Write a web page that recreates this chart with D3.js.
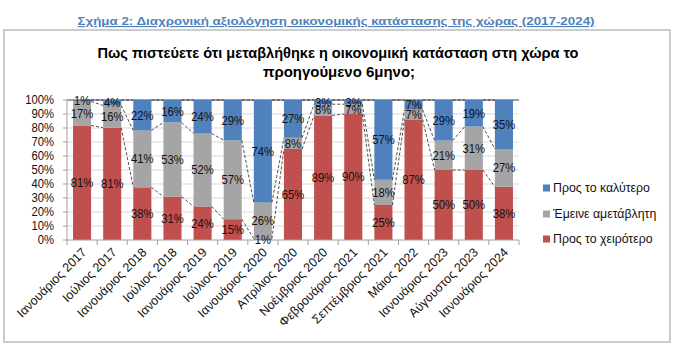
<!DOCTYPE html>
<html><head><meta charset="utf-8">
<script src="https://cdn.jsdelivr.net/npm/d3@7"></script>
<style>
body{margin:0;background:#fff;}
svg{display:block;font-family:"Liberation Sans",Arial,sans-serif;}
</style></head>
<body>
<svg id="chart" width="680" height="356"></svg>
<script>
const categories = ["Ιανουάριος 2017","Ιούλιος 2017","Ιανουάριος 2018","Ιούλιος 2018","Ιανουάριος 2019","Ιούλιος 2019","Ιανουάριος 2020","Απρίλιος 2020","Νοέμβριος 2020","Φεβρουάριος 2021","Σεπτέμβριος 2021","Μάιος 2022","Ιανουάριος 2023","Αύγουστος 2023","Ιανουάριος 2024"];
const worse  = [81,81,38,31,24,15,1,65,89,90,25,87,50,50,38];
const same   = [17,16,41,53,52,57,26,8,8,7,18,7,21,31,27];
const better = [1,4,22,16,24,29,74,27,3,3,57,7,29,19,35];
const seriesNames = ["Προς το χειρότερο","Έμεινε αμετάβλητη","Προς το καλύτερο"];
const yTicks = [0,10,20,30,40,50,60,70,80,90,100];
const caption = "Σχήμα 2: Διαχρονική αξιολόγηση οικονομικής κατάστασης της χώρας (2017-2024)";
const titleLines = ["Πως πιστεύετε ότι μεταβλήθηκε η οικονομική κατάσταση στη χώρα το","προηγούμενο 6μηνο;"];

const colors = ["#C0504D","#A5A5A5","#4F81BD"];
const svg = d3.select("#chart");

// outer frame
svg.append("rect").attr("x",4).attr("y",30).attr("width",666).attr("height",312)
  .attr("fill","#fff").attr("stroke","#bcbcbc").attr("stroke-width",1.5);

// caption
svg.append("text").attr("x",336).attr("y",25).attr("text-anchor","middle")
  .attr("font-size",11.5).attr("font-weight","bold").attr("fill","#4F81BD")
  .attr("text-decoration","underline")
  .attr("textLength",517).attr("lengthAdjust","spacingAndGlyphs")
  .text(caption);

// title
svg.append("text").attr("x",338).attr("y",58).attr("text-anchor","middle")
  .attr("font-size",15.5).attr("font-weight","bold").attr("fill","#000")
  .attr("textLength",481).attr("lengthAdjust","spacingAndGlyphs")
  .text(titleLines[0]);
svg.append("text").attr("x",339).attr("y",77).attr("text-anchor","middle")
  .attr("font-size",15.5).attr("font-weight","bold").attr("fill","#000")
  .attr("textLength",152).attr("lengthAdjust","spacingAndGlyphs")
  .text(titleLines[1]);

const x = d3.scaleBand().domain(categories).range([67,519]).paddingInner(0.4).paddingOuter(0.2);
const y = d3.scaleLinear().domain([0,100]).range([240,100]);

// gridlines
svg.append("g").selectAll("line").data(yTicks.filter(t=>t>0)).join("line")
  .attr("x1",67).attr("x2",519).attr("y1",d=>y(d)).attr("y2",d=>y(d))
  .attr("stroke",d=>d===100?"#404040":"#d9d9d9").attr("stroke-width",1);

// stacked data (normalized like a 100% stacked chart)
const rows = categories.map((c,i)=>{
  const vals=[worse[i],same[i],better[i]];
  const s=d3.sum(vals);
  let acc=0;
  return vals.map((v,k)=>{const y0=acc; acc+=v/s*100; return {cat:c,k,v,y0,y1:acc};});
});

// bars
const g = svg.append("g");
rows.forEach(r=>r.forEach(seg=>{
  g.append("rect").attr("x",x(seg.cat)).attr("width",x.bandwidth())
   .attr("y",y(seg.y1)).attr("height",y(seg.y0)-y(seg.y1)).attr("fill",colors[seg.k]);
}));

// series lines
for(let i=0;i<categories.length-1;i++){
  for(let k=0;k<3;k++){
    svg.append("line")
      .attr("x1",x(categories[i])+x.bandwidth()).attr("x2",x(categories[i+1]))
      .attr("y1",y(rows[i][k].y1)).attr("y2",y(rows[i+1][k].y1))
      .attr("stroke","#222").attr("stroke-width",0.8).attr("stroke-dasharray","3,2");
  }
}

// axes
svg.append("line").attr("x1",67).attr("x2",67).attr("y1",100).attr("y2",240).attr("stroke","#a0a0a0");
svg.append("line").attr("x1",67).attr("x2",519).attr("y1",240).attr("y2",240).attr("stroke","#a0a0a0");
svg.append("g").selectAll("line").data(yTicks).join("line")
  .attr("x1",63).attr("x2",67).attr("y1",d=>y(d)).attr("y2",d=>y(d)).attr("stroke","#a0a0a0");
svg.append("g").selectAll("line").data(d3.range(categories.length+1)).join("line")
  .attr("x1",d=>67+d*(452/categories.length)).attr("x2",d=>67+d*(452/categories.length))
  .attr("y1",240).attr("y2",245).attr("stroke","#a0a0a0");

// y tick labels
svg.append("g").selectAll("text").data(yTicks).join("text")
  .attr("x",54).attr("y",d=>y(d)).attr("dy","0.36em").attr("text-anchor","end")
  .attr("font-size",12.5).attr("fill","#111")
  .attr("transform",`translate(54,0) scale(0.9,1) translate(-54,0)`)
  .text(d=>d+"%");

// value labels
rows.forEach(r=>r.forEach(seg=>{
  const cx = x(seg.cat)+x.bandwidth()/2, cy=y((seg.y0+seg.y1)/2);
  svg.append("text").attr("x",cx).attr("y",cy).attr("dy","0.36em").attr("text-anchor","middle")
    .attr("font-size",12.5).attr("fill","#111")
    .attr("transform",`translate(${cx},0) scale(0.9,1) translate(${-cx},0)`)
    .text(seg.v+"%");
}));

// x labels
svg.append("g").selectAll("text").data(categories).join("text")
  .attr("transform",d=>`translate(${x(d)+x.bandwidth()/2+2},${250}) rotate(-45)`)
  .attr("text-anchor","end").attr("dy","0.35em").attr("font-size",12.5).attr("fill","#111")
  .text(d=>d);

// legend
const leg = [2,1,0];
const legY = [188,214,239];
leg.forEach((k,j)=>{
  svg.append("rect").attr("x",543).attr("y",legY[j]-3.5).attr("width",7).attr("height",7).attr("fill",colors[k]);
  svg.append("text").attr("x",553).attr("y",legY[j]).attr("dy","0.36em").attr("font-size",12.3).attr("fill","#111")
    .text(seriesNames[k]);
});
</script>
</body></html>
